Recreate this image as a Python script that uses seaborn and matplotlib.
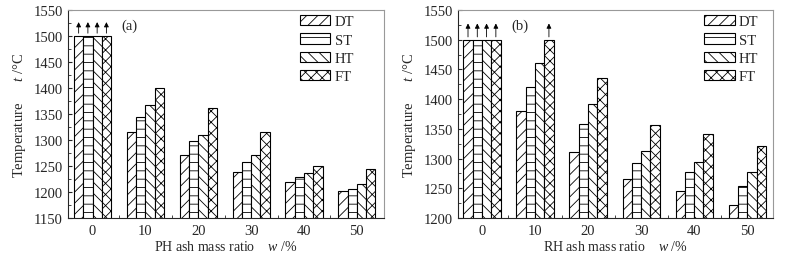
import numpy as np
import pandas as pd
import matplotlib
matplotlib.use('Agg')
import matplotlib.pyplot as plt
from matplotlib.patches import Patch
from matplotlib.ticker import MultipleLocator
import seaborn as sns

# ash mass ratio categories and temperature types
ratios = ['0', '10', '20', '30', '40', '50']
types = ['DT', 'ST', 'HT', 'FT']
hatches = ['///', '--', '\\\\\\', 'xxx']

# (a) PH ash
ph_DT = [1500, 1315, 1272, 1238, 1220, 1202]
ph_ST = [1500, 1345, 1299, 1258, 1228, 1206]
ph_HT = [1500, 1368, 1309, 1272, 1236, 1215]
ph_FT = [1500, 1400, 1362, 1316, 1250, 1245]
# (b) RH ash
rh_DT = [1500, 1380, 1311, 1265, 1245, 1222]
rh_ST = [1500, 1420, 1358, 1293, 1278, 1254]
rh_HT = [1500, 1460, 1391, 1312, 1295, 1278]
rh_FT = [1500, 1500, 1436, 1357, 1342, 1322]

sns.set_style('ticks')
plt.rcParams['font.family'] = ['Liberation Serif', 'DejaVu Serif']
plt.rcParams['mathtext.fontset'] = 'custom'
plt.rcParams['mathtext.rm'] = 'Liberation Serif'
plt.rcParams['mathtext.it'] = 'Liberation Serif:italic'
plt.rcParams['hatch.linewidth'] = 0.6


def to_long(dt, st, ht, ft):
    rows = []
    for name, vals in zip(types, [dt, st, ht, ft]):
        for r, v in zip(ratios, vals):
            rows.append({'ratio': r, 'type': name, 'temp': v})
    return pd.DataFrame(rows)


panels = [
    (to_long(ph_DT, ph_ST, ph_HT, ph_FT), (1150, 1550), '(a)', 'PH',
     [0.085, 0.141, 0.396, 0.816], (-0.467, 5.51), 0.734),
    (to_long(rh_DT, rh_ST, rh_HT, rh_FT), (1200, 1550), '(b)', 'RH',
     [0.574, 0.141, 0.395, 0.816], (-0.45, 5.49), 0.78),
]

fig = plt.figure(figsize=(7.98, 2.55), dpi=100)
for df, ylim, tag, ash, pos, xlim, legx in panels:
    ax = fig.add_axes(pos)
    sns.barplot(data=df, x='ratio', y='temp', hue='type', order=ratios,
                hue_order=types, palette=['white'] * 4, edgecolor='black',
                linewidth=0.8, width=0.70, legend=False, ax=ax)
    for cont, h in zip(ax.containers, hatches):
        for bar in cont:
            bar.set_hatch(h)
            # arrow marks values beyond the 1500 limit
            if bar.get_height() >= 1500:
                xc = bar.get_x() + bar.get_width() / 2
                ax.annotate('', xy=(xc, 1532), xytext=(xc, 1500),
                            arrowprops=dict(arrowstyle='-|>', color='black',
                                            lw=0.6, mutation_scale=7))
    ax.set_ylim(*ylim)
    ax.set_xlim(*xlim)
    ax.yaxis.set_major_locator(MultipleLocator(50))
    ax.yaxis.set_minor_locator(MultipleLocator(25))
    ax.set_xticks(np.arange(len(ratios)))
    ax.set_xticks(np.arange(len(ratios) - 1) + 0.5, minor=True)
    ax.tick_params(axis='both', which='both', direction='in', labelsize=10.5)
    ax.tick_params(axis='x', which='major', length=0, pad=4)
    ax.tick_params(which='major', length=3)
    ax.tick_params(which='minor', length=2)
    for s in ['top', 'right']:
        ax.spines[s].set_color('#999999')
    ax.set_xlabel(ash + ' ash mass ratio    $w$ /%', fontsize=10, labelpad=2)
    ax.set_ylabel('Temperature      $t$ /\u00b0C', fontsize=10.5, labelpad=4)
    ax.text(0.17, 0.91, tag, transform=ax.transAxes, fontsize=10.5)
    handles = [Patch(facecolor='white', edgecolor='black', linewidth=0.8,
                     hatch=h, label=t) for t, h in zip(types, hatches)]
    ax.legend(handles=handles, loc='upper left', bbox_to_anchor=(legx, 0.975),
              frameon=False, fontsize=10.5, handlelength=2.1, handleheight=0.7,
              labelspacing=0.35, handletextpad=0.3, borderpad=0,
              borderaxespad=0)

fig.savefig('out.png', dpi=100)
